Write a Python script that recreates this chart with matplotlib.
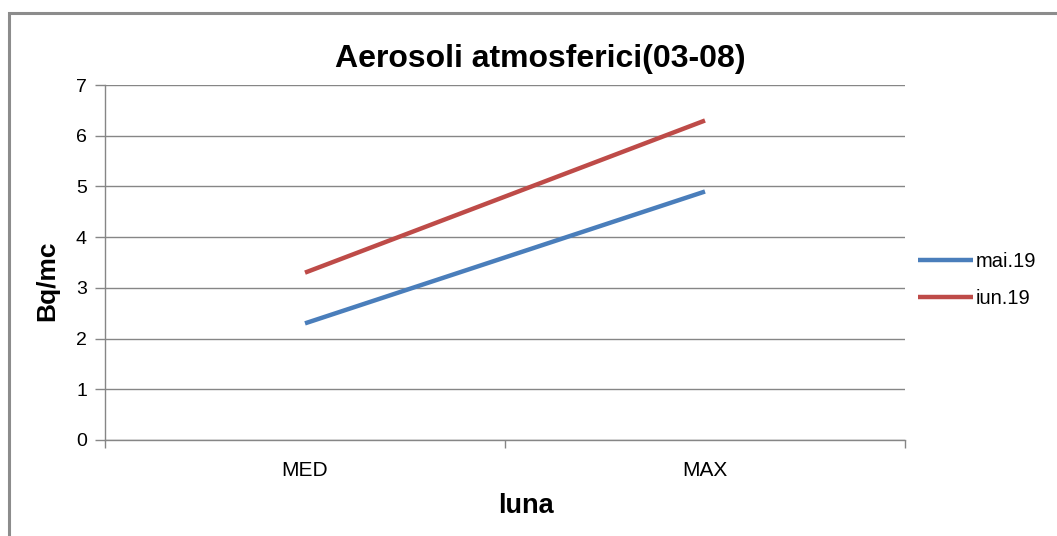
import matplotlib
matplotlib.use("Agg")
import matplotlib.pyplot as plt
from matplotlib.patches import Rectangle

categories = ["MED", "MAX"]
series_names = ["mai.19", "iun.19"]
mai19 = [2.3, 4.9]
iun19 = [3.3, 6.3]
yticks = [0, 1, 2, 3, 4, 5, 6, 7]

plt.rcParams['font.family'] = ['Liberation Sans', 'DejaVu Sans']

W, H = 1057, 536
fig = plt.figure(figsize=(W / 100, H / 100), dpi=100)
ax = fig.add_axes([105 / W, 1 - 440 / H, 800 / W, 355 / H])

# figure border
fig.patches.append(Rectangle((9 / W, -0.1), 1.2, 1 - 13 / H + 0.1, transform=fig.transFigure,
                             fill=False, edgecolor="#8c8c8c", linewidth=2.2, zorder=0))

x = list(range(len(categories)))
colors = ["#4A7EBB", "#BE4B48"]
for vals, name, c in zip([mai19, iun19], series_names, colors):
    ax.plot(x, vals, color=c, linewidth=3.2, label=name, solid_capstyle="butt", zorder=3)

ax.set_xlim(-0.5, len(categories) - 0.5)
ax.set_ylim(0, 7)
ax.set_yticks(yticks)
ax.yaxis.grid(True, color="#868686", linewidth=1)
ax.set_axisbelow(True)

ax.set_xticks(x)
ax.set_xticklabels(categories)
ax.set_xticks([i - 0.5 for i in range(len(categories) + 1)], minor=True)
ax.tick_params(axis="x", which="major", length=0, pad=15, labelsize=15)
ax.tick_params(axis="x", which="minor", length=6, color="#868686", width=1)
ax.tick_params(axis="y", length=7, color="#868686", width=1, pad=6, labelsize=14)

for s in ["top", "right"]:
    ax.spines[s].set_visible(False)
for s in ["left", "bottom"]:
    ax.spines[s].set_color("#868686")
    ax.spines[s].set_linewidth(1)

ax.set_title("Aerosoli atmosferici(03-08)", fontsize=23, fontweight="bold", pad=13,
             x=(540 - 105) / 800)
ax.set_ylabel("Bq/mc", fontsize=19, fontweight="bold")
ax.yaxis.set_label_coords((59 - 105) / 800, (440 - 281) / 355)
ax.set_xlabel("luna", fontsize=19.5, fontweight="bold")
ax.xaxis.set_label_coords((526 - 105) / 800, (440 - 493) / 355)

leg = ax.legend(loc="center left", bbox_to_anchor=((918 - 105) / 800, (440 - 280) / 355),
                frameon=False, fontsize=14.5, handlelength=2.75, handletextpad=0.1,
                labelspacing=0.88, borderaxespad=0, borderpad=0)

fig.savefig("out.png", dpi=100)
